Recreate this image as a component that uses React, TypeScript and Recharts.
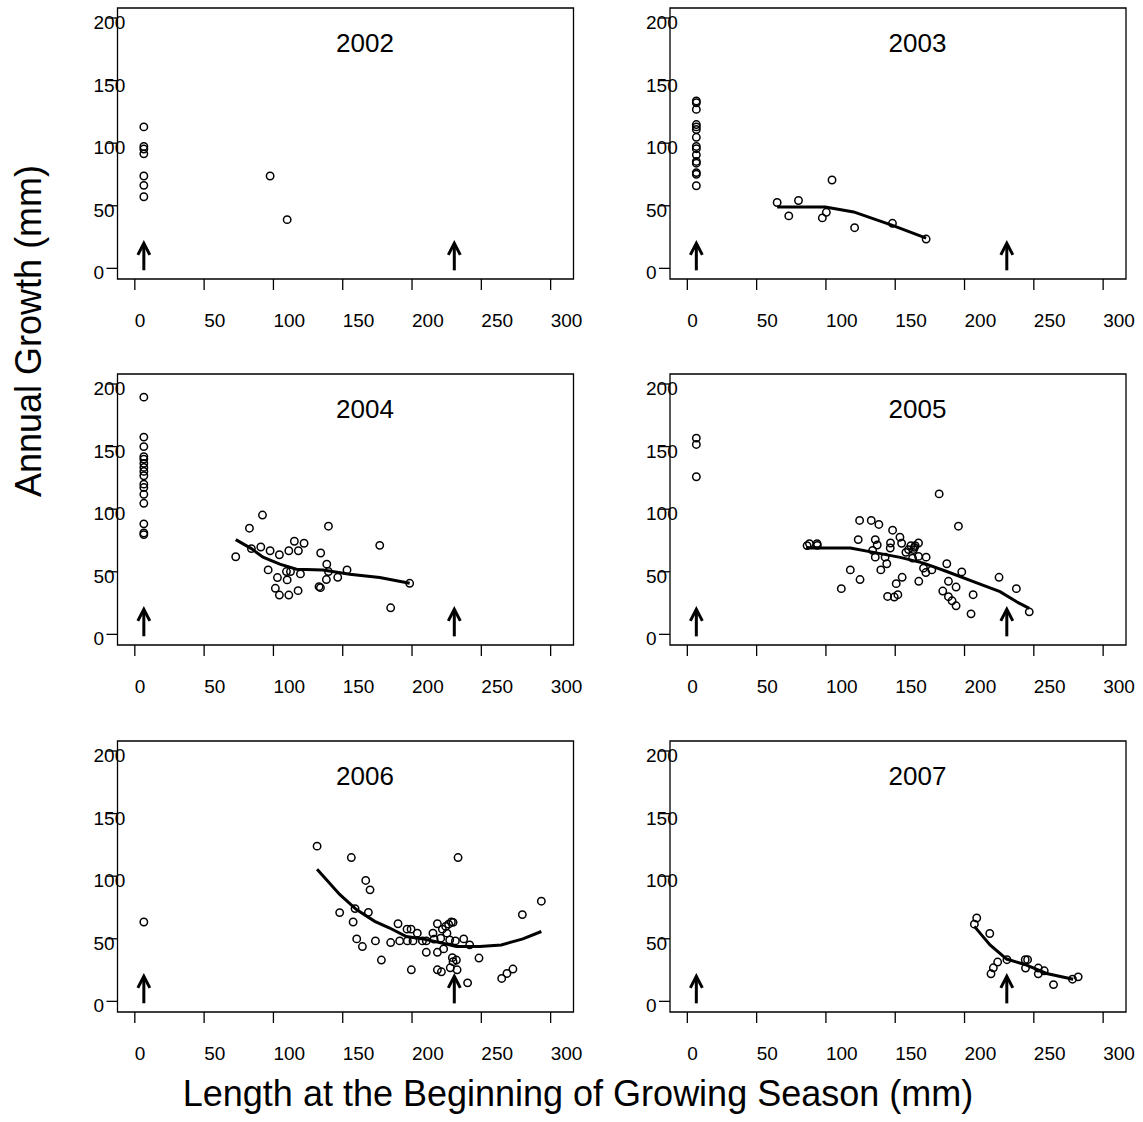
import React from 'react';
import { ScatterChart, Scatter, XAxis, YAxis, ReferenceArea } from 'recharts';

const FONT = '"Liberation Sans", Arial, Helvetica, sans-serif';

const xTicks = [0, 50, 100, 150, 200, 250, 300];
const yTicks = [0, 50, 100, 150, 200];
const arrowX = [6.5, 230.5];

// [length, growth]
const pts2002 = [
  [6.5, 113], [6.5, 97.4], [6.5, 95.3], [6.5, 91.5], [6.5, 73.8], [6.5, 66.3], [6.5, 57.2],
  [97.6, 73.8], [109.9, 38.9],
];
const fit2002: number[][] = [];

const pts2003 = [
  [6.5, 133.7], [6.5, 132.3], [6.5, 127], [6.5, 114.9], [6.5, 113], [6.5, 110.9], [6.5, 104.7],
  [6.5, 97.4], [6.5, 95.6], [6.5, 90.7], [6.5, 85.4], [6.5, 84], [6.5, 76.5], [6.5, 75.2], [6.5, 66],
  [64.8, 52.6], [73.2, 41.9], [80.2, 54.2], [97.4, 40.3], [100.3, 44.8], [104.4, 70.6],
  [120.7, 32.5], [148, 36], [172.3, 23.4],
];
const fit2003 = [[64.8, 49.1], [99.6, 49.1], [120, 45.1], [148, 34.4], [172.3, 24.2]];

const pts2004 = [
  [6.5, 189.5], [6.5, 157.6], [6.5, 150], [6.5, 142], [6.5, 140], [6.5, 136.6], [6.5, 133.4],
  [6.5, 130.2], [6.5, 126.7], [6.5, 120], [6.5, 117.3], [6.5, 111.9], [6.5, 104.7], [6.5, 88.3],
  [6.5, 81], [6.5, 79.7],
  [72.8, 62], [82.7, 84.8], [84.1, 68.5], [90.9, 69.8], [92.1, 95.3], [96.2, 51.5], [97.6, 66.8],
  [101.4, 36.8], [102.9, 45.4], [104.3, 63.6], [104.3, 31.4], [109.4, 50.2], [109.9, 43.5],
  [111.1, 66.8], [111.1, 31.4], [112.3, 50.2], [115.1, 74.4], [117.8, 34.9], [118, 66.8],
  [119.5, 48.3], [122.1, 72.8], [132.9, 38.1], [133.9, 37.3], [134.1, 65], [138.2, 43.8],
  [138.5, 56.1], [139.7, 86.4], [139.7, 50.2], [146.4, 45.6], [153.1, 51.5], [176.7, 71.1],
  [184.6, 21.2], [198.3, 40.8],
];
const fit2004 = [
  [72.8, 75.7], [84.1, 68.5], [92.5, 61.7], [104.6, 56.1], [116.6, 52.1], [135.8, 51.5],
  [155, 48], [176.7, 45.4], [198.3, 40.8],
];

const pts2005 = [
  [6.5, 156.8], [6.5, 151.7], [6.5, 125.9],
  [86.4, 70.9], [88.1, 72.5], [93.6, 72.5], [93.8, 71.1], [111.1, 36.5], [117.6, 51.5],
  [124.3, 91], [123.3, 75.7], [124.6, 43.8], [132.7, 91], [133.7, 67.1], [135.6, 75.7],
  [135.6, 61.7], [137, 71.4], [138.2, 87.8], [139.6, 51.5], [142.7, 61.7], [143.9, 56.4],
  [144.5, 30.3], [146.4, 69], [146.6, 73], [148.1, 83.2], [149.3, 29.8], [150.7, 40.5],
  [151.9, 31.7], [153.4, 77.6], [154.6, 72.8], [155, 45.6], [157.7, 65.5], [159.6, 67.7],
  [161.3, 70.9], [162.5, 60.9], [163.2, 67.7], [163.9, 69.5], [164.4, 70.9], [166.8, 73],
  [166.8, 62.3], [167, 42.4], [170.4, 52.9], [172.1, 49.4], [172.3, 61.7], [176.4, 51.5],
  [181.7, 112.2], [184.3, 34.6], [187.2, 56.4], [188.4, 42.4], [188.4, 30.1], [191, 26.8],
  [193.9, 37.8], [193.9, 22.8], [195.6, 86.4], [198, 49.9], [204.7, 16.4], [206.2, 31.7],
  [224.9, 45.6], [237.4, 36.5], [246.7, 18],
];
const fit2005 = [
  [85.7, 69], [117.6, 69], [134.4, 65.5], [153.6, 61.5], [170.4, 56.9], [187.2, 50.2],
  [206.4, 42.1], [225.6, 34.1], [237.6, 26], [246.7, 20.7],
];

const pts2006 = [
  [6.5, 63.4],
  [131.5, 124], [147.8, 70.9], [156.2, 114.9], [157.5, 63.4], [158.9, 74.1], [160.1, 49.9],
  [164.2, 43.8], [166.6, 96.6], [168.5, 71.1], [169.7, 89.1], [173.6, 48.3], [177.9, 33],
  [184.6, 47], [189.9, 62], [191.1, 48.3], [196.4, 57.7], [196.6, 48.3], [199.3, 57.7],
  [199.5, 25.2], [200.7, 48.3], [203.8, 54.5], [207.5, 48.3], [210.3, 39.2], [210.3, 48.3],
  [215.1, 54.5], [215.9, 49.7], [218.3, 62], [218.3, 39.2], [218.3, 25.2], [220.7, 50.5],
  [221.2, 23.6], [221.9, 57.7], [222.8, 41.9], [224.3, 59.9], [225.2, 54.5], [226.4, 61.7],
  [227.2, 49.1], [228.4, 63.4], [229.6, 63.1], [227.6, 26.8], [229.1, 34.9], [229.6, 31.7],
  [231.3, 48.3], [232, 33], [232.5, 25.2], [233.2, 114.9], [237.3, 49.9], [240.1, 14.8],
  [241.6, 45.1], [248.3, 34.6], [264.7, 18.3], [268.5, 22.3], [272.8, 25.8], [279.6, 69.3],
  [293.3, 80],
];
const fit2006 = [
  [131.5, 105.5], [147.8, 85.4], [159.9, 73.3], [173.1, 63.9], [183.9, 58.6], [195.9, 51.8],
  [207.9, 49.9], [219.9, 47], [232, 43.8], [248.8, 43.8], [264.4, 45.1], [280, 49.9],
  [293.3, 55.8],
];

const pts2007 = [
  [207.1, 61.7], [208.8, 66.6], [218.2, 54.2], [219.1, 22], [220.8, 26.8], [223.9, 31.4],
  [230.6, 33.3], [243.8, 33.3], [245.5, 33.3], [244, 26.6], [253.2, 26.6], [253.2, 22],
  [257.5, 24.4], [264.2, 13.4], [277.9, 17.7], [282, 19.6],
];
const fit2007 = [
  [207.1, 59.9], [218.4, 45.1], [230.4, 33.8], [244.8, 29], [259.2, 22.3], [278.4, 17.7],
];

const panels = [
  { year: '2002', pts: pts2002, fit: fit2002 },
  { year: '2003', pts: pts2003, fit: fit2003 },
  { year: '2004', pts: pts2004, fit: fit2004 },
  { year: '2005', pts: pts2005, fit: fit2005 },
  { year: '2006', pts: pts2006, fit: fit2006 },
  { year: '2007', pts: pts2007, fit: fit2007 },
];

const X_DOMAIN = [-12.5, 316.5];
const Y_DOMAIN = [-8.5, 208];
const PLOT_W = 456;
const PLOT_H = 271;
const TOP_M = 8;
const X_AXIS_H = 87;
const CHART_H = TOP_M + PLOT_H + X_AXIS_H;

// column 0 is drawn wider than its slot so that "300" is not clipped
const cols = [
  { left: 0, axisW: 117.5, width: 610 },
  { left: 580, axisW: 90, width: 563 },
];
const rowTops = [0, 366, 733];

const toXY = (arr: number[][]) => arr.map(([x, y]) => ({ x, y }));

const Circle = (p: any) => (
  <circle cx={p.cx} cy={p.cy} r={3.7} fill="none" stroke="#000" strokeWidth={1.5} />
);

const Arrow = (p: any) => {
  const { cx, cy } = p;
  return (
    <g>
      <line x1={cx} y1={cy + 2} x2={cx} y2={cy - 24} stroke="#000" strokeWidth={3} />
      <polyline
        points={`${cx - 6},${cy - 13.5} ${cx},${cy - 25} ${cx + 6},${cy - 13.5}`}
        fill="none"
        stroke="#000"
        strokeWidth={3}
      />
    </g>
  );
};

const NoDot = () => <g />;

function Panel({ year, pts, fit, col, row }: any) {
  const c = cols[col];
  const boxBottom = TOP_M + PLOT_H;

  const XTick = (p: any) => (
    <text x={p.x} y={boxBottom + 48} textAnchor="start" fontSize={19} fontFamily={FONT} fill="#000">
      {p.payload.value}
    </text>
  );
  const YTick = (p: any) => (
    <text x={c.axisW - 24} y={p.y + 11} textAnchor="start" fontSize={19} fontFamily={FONT} fill="#000">
      {p.payload.value}
    </text>
  );

  return (
    <div style={{ position: 'absolute', left: c.left, top: rowTops[row] }}>
      <ScatterChart width={c.width} height={CHART_H} margin={{ top: TOP_M, right: c.width - c.axisW - PLOT_W, bottom: 0, left: 0 }}>
        <XAxis
          type="number"
          dataKey="x"
          domain={X_DOMAIN}
          ticks={xTicks}
          allowDataOverflow
          axisLine={false}
          tickSize={11}
          tickLine={{ stroke: '#000', strokeWidth: 1.3 }}
          tick={XTick}
          height={X_AXIS_H}
        />
        <YAxis
          type="number"
          dataKey="y"
          domain={Y_DOMAIN}
          ticks={yTicks}
          allowDataOverflow
          axisLine={false}
          tickSize={11}
          tickLine={{ stroke: '#000', strokeWidth: 1.3 }}
          tick={YTick}
          width={c.axisW}
        />
        <ReferenceArea
          x1={X_DOMAIN[0]}
          x2={X_DOMAIN[1]}
          y1={Y_DOMAIN[0]}
          y2={Y_DOMAIN[1]}
          fill="none"
          fillOpacity={0}
          stroke="#000"
          strokeWidth={1.3}
        />
        <Scatter data={toXY(arrowX.map((x) => [x, 0]))} shape={Arrow} isAnimationActive={false} />
        {fit.length > 0 && (
          <Scatter
            data={toXY(fit)}
            line={{ stroke: '#000', strokeWidth: 3 }}
            lineType="joint"
            shape={NoDot}
            isAnimationActive={false}
          />
        )}
        <Scatter data={toXY(pts)} shape={Circle} isAnimationActive={false} />
      </ScatterChart>
      <div
        style={{
          position: 'absolute',
          left: c.axisW + 247.5 - 40,
          top: TOP_M + 43.5 - 24,
          width: 80,
          textAlign: 'center',
          fontFamily: FONT,
          fontSize: 26,
          lineHeight: '30px',
          color: '#000',
        }}
      >
        {year}
      </div>
    </div>
  );
}

export default function App() {
  return (
    <div style={{ position: 'absolute', left: 0, top: 0, width: 1143, height: 1122, background: '#fff', overflow: 'hidden' }}>
      {panels.map((p, i) => (
        <Panel key={p.year} {...p} col={i % 2} row={Math.floor(i / 2)} />
      ))}
      <svg width={1143} height={1122} style={{ position: 'absolute', left: 0, top: 0, pointerEvents: 'none' }}>
        <text
          transform="translate(40.5, 497) rotate(-90)"
          textAnchor="start"
          fontSize={36}
          fontFamily={FONT}
          fill="#000"
        >
          Annual Growth (mm)
        </text>
        <text x={578} y={1106} textAnchor="middle" fontSize={36} fontFamily={FONT} fill="#000">
          Length at the Beginning of Growing Season (mm)
        </text>
      </svg>
    </div>
  );
}
